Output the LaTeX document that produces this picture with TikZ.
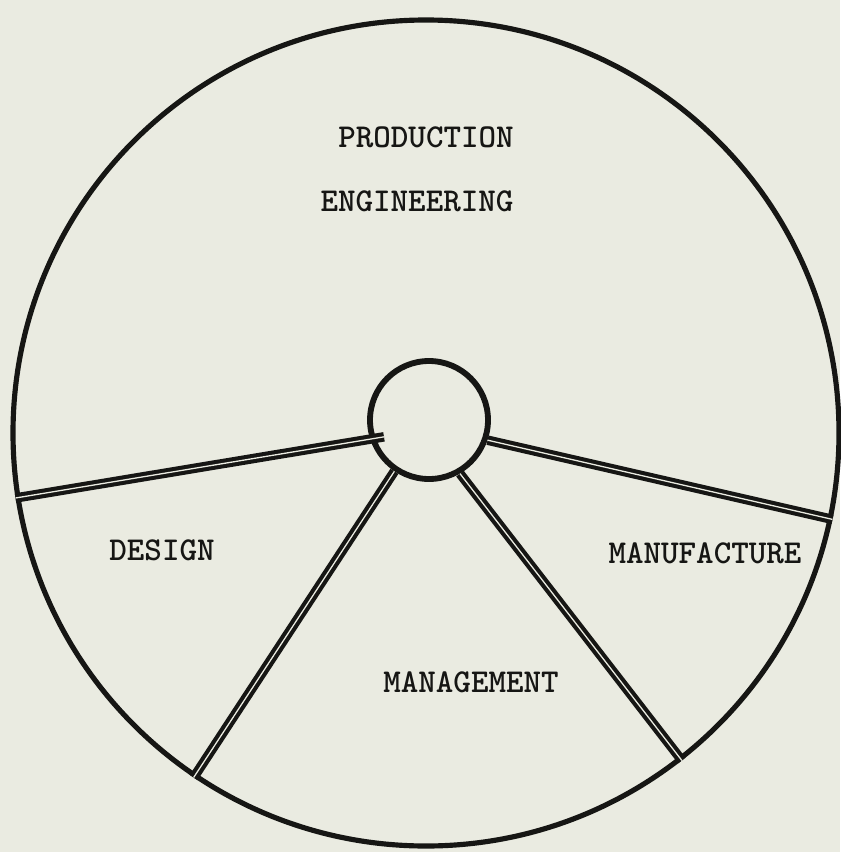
\documentclass[tikz,border=0pt]{standalone}
\usepackage{fontspec}
\usepackage{tikz}
\usetikzlibrary{positioning,calc}
\definecolor{wheelpaper}{RGB}{234,235,225}
\definecolor{wheelink}{RGB}{22,22,20}
\tikzset{
  rimcircle/.style={circle, draw=wheelink, line width=4.4pt, inner sep=0pt,
    minimum size=247.8mm},
  hubcircle/.style={circle, draw=wheelink, line width=5pt, inner sep=0pt,
    minimum size=35.4mm},
  spoke/.style={draw=wheelink, line width=3.5pt, double=wheelpaper,
    double distance=1.1pt},
  tlabel/.style={font=\fontsize{28.5}{32}\selectfont\ttfamily\bfseries,
    text=wheelink, inner sep=1pt}
}
\begin{document}
\begin{tikzpicture}[x=0.3mm,y=-0.3mm]
  \fill[wheelpaper] (0,0) rectangle (840,852);
  \useasboundingbox (0,0) rectangle (840,852);
  % wheel
  \node[rimcircle] (rim) at (426,433) {};
  \node[hubcircle] (hub) at (429,420) {};
  % spokes
  \draw[spoke,shorten <=-12pt] (hub.198) -- (rim.189);
  \draw[spoke] (hub.236) -- (rim.236.5);
  \draw[spoke] (hub.300) -- (rim.308.5);
  \draw[spoke] (hub.341) -- (rim.348.3);
  % sectors
  \node[tlabel] (prod) at (426,137) {PRODUCTION};
  \node[tlabel] (eng) at (417,201) {ENGINEERING};
  \node[tlabel] (design) at (162,550) {DESIGN};
  \node[tlabel] (mgmt) at (471,682) {MANAGEMENT};
  \node[tlabel] (manuf) at (705,553) {MANUFACTURE};
\end{tikzpicture}
\end{document}
